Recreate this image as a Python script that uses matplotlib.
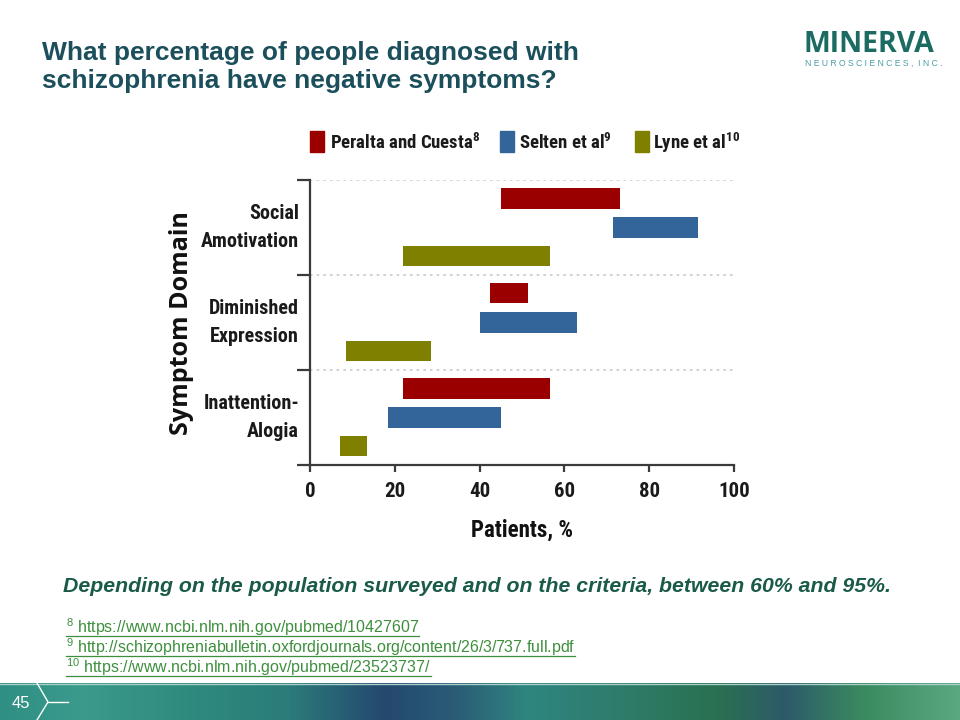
import matplotlib
matplotlib.use("Agg")
import matplotlib.pyplot as plt
from matplotlib import font_manager as fm
import numpy as np
from matplotlib.patches import Rectangle
from matplotlib.lines import Line2D
from matplotlib.colors import LinearSegmentedColormap

# data
domains = ['Social\nAmotivation', 'Diminished\nExpression', 'Inattention-\nAlogia']
studies = ['Peralta and Cuesta', 'Selten et al', 'Lyne et al']
refs = ['8', '9', '10']
peralta_lo = [45, 42.5, 22]
peralta_hi = [73, 51.5, 56.5]
selten_lo = [71.5, 40, 18.5]
selten_hi = [91.5, 63, 45]
lyne_lo = [22, 8.5, 7]
lyne_hi = [56.5, 28.5, 13.5]
xticks = [0, 20, 40, 60, 80, 100]
footnotes = ['https://www.ncbi.nlm.nih.gov/pubmed/10427607',
             'http://schizophreniabulletin.oxfordjournals.org/content/26/3/737.full.pdf',
             'https://www.ncbi.nlm.nih.gov/pubmed/23523737/']

colors = ['#9b0000', '#33649a', '#808000']
arial = ['Liberation Sans', 'DejaVu Sans']

# pick a narrow font for the Calibri-like chart text
installed = {(f.name, f.stretch) for f in fm.fontManager.ttflist}
names = {n for n, s in installed}
nstretch = 'normal'
scale = 1.0
if 'Liberation Sans Narrow' in names:
    narrow = ['Liberation Sans Narrow', 'DejaVu Sans']
elif 'Roboto Condensed' in names:
    narrow = ['Roboto Condensed', 'DejaVu Sans']
elif ('DejaVu Sans', 'condensed') in installed:
    narrow = ['DejaVu Sans']
    nstretch = 'condensed'
    scale = 0.92
else:
    narrow = ['Lato', 'DejaVu Sans']
    scale = 0.85

fig = plt.figure(figsize=(9.6, 7.2), dpi=100)
W, H = 960, 720

def fx(px):
    return px / W

def fy(py):
    return 1 - py / H

# chart
ax = fig.add_axes([fx(310), fy(465), fx(734) - fx(310), fy(180) - fy(465)])
offsets = [0.19, 0.5, 0.8]
series = [(peralta_lo, peralta_hi), (selten_lo, selten_hi), (lyne_lo, lyne_hi)]
for k, (lo, hi) in enumerate(series):
    y = np.arange(len(domains)) + offsets[k]
    ax.barh(y, np.array(hi) - np.array(lo), left=lo, height=0.22, color=colors[k])

ax.set_xlim(0, 100)
ax.set_ylim(3, 0)
for g in range(3):
    ax.axhline(g, color='#c8c8c8', lw=1.2, ls=(0, (1.5, 2.5)), zorder=0)

ax.spines['top'].set_visible(False)
ax.spines['right'].set_visible(False)
for s in ['left', 'bottom']:
    ax.spines[s].set_color('#3a3a3a')
    ax.spines[s].set_linewidth(1.6)

ax.set_yticks([0, 1, 2, 3])
ax.set_yticklabels([])
ax.tick_params(axis='y', which='major', length=9.5, width=1.6, color='#3a3a3a', direction='out')
ax.set_yticks([0.5, 1.5, 2.5], minor=True)
ax.set_yticklabels(domains, minor=True, fontfamily=narrow, fontstretch=nstretch, fontweight='bold',
                   fontsize=14.5 * scale, color='#1a1a1a', linespacing=1.6, ha='right', va='center')
ax.tick_params(axis='y', which='minor', length=0, pad=8)

ax.set_xticks(xticks)
ax.set_xticklabels([str(t) for t in xticks], fontfamily=narrow, fontstretch=nstretch, fontweight='bold',
                   fontsize=15 * scale, color='#1a1a1a')
ax.tick_params(axis='x', length=5, width=1.6, color='#3a3a3a', pad=7)
ax.set_xlabel('Patients, %', fontfamily=narrow, fontstretch=nstretch, fontweight='bold',
              fontsize=16.5 * scale, color='#111111', labelpad=13)

fig.text(fx(182), fy(323), 'Symptom Domain', rotation=90, ha='center', va='center',
         fontfamily=['Open Sans', 'DejaVu Sans'], fontweight='bold', fontsize=18, color='#111111')

# legend
sq_x = [310, 500, 635]
tx_x = [330, 519, 653]
for k in range(3):
    fig.add_artist(Rectangle((fx(sq_x[k]), fy(152)), fx(14), 21 / H, transform=fig.transFigure,
                             color=colors[k]))
    fig.text(fx(tx_x[k]), fy(149), studies[k] + r'$^{\mathregular{' + refs[k] + '}}$',
             fontfamily=narrow, fontstretch=nstretch, fontweight='bold', fontsize=13.5 * scale,
             color='#1a1a1a', ha='left', va='baseline')

# title
fig.text(fx(42), fy(88), 'What percentage of people diagnosed with\nschizophrenia have negative symptoms?',
         fontfamily=arial, fontweight='bold', fontsize=19, color='#1b4f5b',
         ha='left', va='baseline', linespacing=1.2)

# logo
fig.text(fx(803), fy(52), 'MINERVA', fontfamily=['Open Sans', 'DejaVu Sans'], fontweight='bold',
         fontsize=20.5, color='#1b6b63', ha='left', va='baseline')
fig.text(fx(805), fy(66), 'N E U R O S C I E N C E S ,  I N C .', fontfamily=arial,
         fontsize=6.2, color='#4a9ea6', ha='left', va='baseline')

# conclusion
fig.text(fx(63), fy(592), 'Depending on the population surveyed and on the criteria, between 60% and 95%.',
         fontfamily=arial, fontweight='bold', fontstyle='italic', fontsize=15.3,
         color='#1a5a48', ha='left', va='baseline')

# footnotes
fn_texts = []
for i, (r, url) in enumerate(zip(refs, footnotes)):
    t = fig.text(fx(66), fy(633 + 20 * i), r'$^{\mathregular{' + r + '}}$ ' + url,
                 fontfamily=arial, fontsize=11.5, color='#3d8f3d', ha='left', va='baseline')
    fn_texts.append((t, 633 + 20 * i))

# bottom band
band = LinearSegmentedColormap.from_list('band', [
    (0.0, '#2f8f84'), (0.08, '#3a9a8c'), (0.2, '#2f8a7e'), (0.3, '#2b7c7a'),
    (0.4, '#24486e'), (0.47, '#2a5a76'), (0.55, '#2f8580'), (0.65, '#2e7c6a'),
    (0.75, '#2a7050'), (0.82, '#2d5a6a'), (0.9, '#3a8a60'), (1.0, '#5aa880')])
bax = fig.add_axes([0, 0, 1, 37 / H])
bax.imshow(np.linspace(0, 1, 256)[None, :], aspect='auto', cmap=band, extent=(0, W, 0, 37))
bax.set_xlim(0, W)
bax.set_ylim(0, 37)
bax.axis('off')
bax.axhline(36.5, color='#a8d0c8', lw=1)
bax.text(12, 17, '45', color='white', fontsize=12, fontfamily=arial, va='center', ha='left')
bax.plot([37, 48, 37], [37, 18, 0], color='white', lw=1)
bax.plot([48, 68], [18, 18], color='white', lw=1)

fig.canvas.draw()
r = fig.canvas.get_renderer()
for t, base in fn_texts:
    bb = t.get_window_extent(renderer=r)
    fig.add_artist(Line2D([bb.x0 / W, bb.x1 / W], [fy(base + 3)] * 2,
                          transform=fig.transFigure, color='#3d8f3d', lw=0.9))

fig.savefig('out.png', dpi=100)
